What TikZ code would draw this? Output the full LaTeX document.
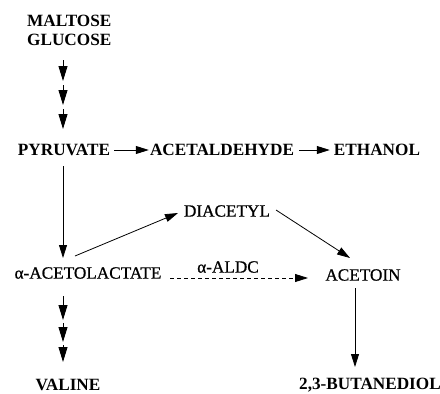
\documentclass[tikz,border=0pt]{standalone}
\usepackage{fontspec}
\setmainfont{Liberation Serif}
\newfontfamily\medfont[FakeBold=0.7]{Liberation Serif}
\usetikzlibrary{arrows.meta}
\tikzset{
  bnode/.style={inner sep=0pt, font=\fontsize{17.2}{19}\selectfont\bfseries},
  rnode/.style={inner sep=0pt, font=\fontsize{17.2}{19}\medfont},
  arr/.style={-{Triangle[length=13pt,width=8pt]}, line width=0.8pt},
  darr/.style={arr, dash pattern=on 4pt off 3pt},
  tick/.style={-{Triangle[length=15pt,width=9pt]}, line width=0.9pt}
}
\begin{document}
\begin{tikzpicture}[x=1pt,y=-1pt]
\useasboundingbox (0,0) rectangle (440,394);
\node[bnode, anchor=west] (malt) at (27,20.5) {MALTOSE};
\node[bnode, anchor=west] (glc) at (27,39.5) {GLUCOSE};
\node[bnode] (pyr) at (64,150) {PYRUVATE};
\node[bnode] (acd) at (222,150) {ACETALDEHYDE};
\node[bnode] (eth) at (377,150) {ETHANOL};
\node[rnode] (dia) at (227,211) {DIACETYL};
\node[rnode] (alac) at (88,273) {α-ACETOLACTATE};
\node[rnode] (acn) at (363,275) {ACETOIN};
\node[bnode] (val) at (68,385) {VALINE};
\node[bnode] (but) at (370,385) {2,3-BUTANEDIOL};
\node[rnode] (aldc) at (228,267) {α-ALDC};
% triple arrows top
\coordinate (t0) at (63,60);
\coordinate (t1) at (63,81);
\coordinate (t2) at (63,85);
\coordinate (t3) at (63,105);
\coordinate (t4) at (63,109);
\coordinate (t5) at (63,129);
\draw[tick] (t0) -- (t1);
\draw[tick] (t2) -- (t3);
\draw[tick] (t4) -- (t5);
% triple arrows bottom
\coordinate (b0) at (63,296);
\coordinate (b1) at (63,320);
\coordinate (b2) at (63,323);
\coordinate (b3) at (63,342);
\coordinate (b4) at (63,345);
\coordinate (b5) at (63,362);
\draw[tick] (b0) -- (b1);
\draw[tick] (b2) -- (b3);
\draw[tick] (b4) -- (b5);
% connectors
\draw[arr] (pyr.east) ++(4,0) -- ([xshift=-1pt]acd.west);
\draw[arr] (acd.east) ++(5,0) -- ([xshift=-4pt]eth.west);
\draw[arr] (63,166) -- (63,258);
\draw[arr] (75,256) -- (178,213);
\draw[arr] (276,210) -- (350,258);
\draw[darr] (170,278) -- (308,278);
\draw[arr] (355,288) -- (355,367);
\end{tikzpicture}
\end{document}
